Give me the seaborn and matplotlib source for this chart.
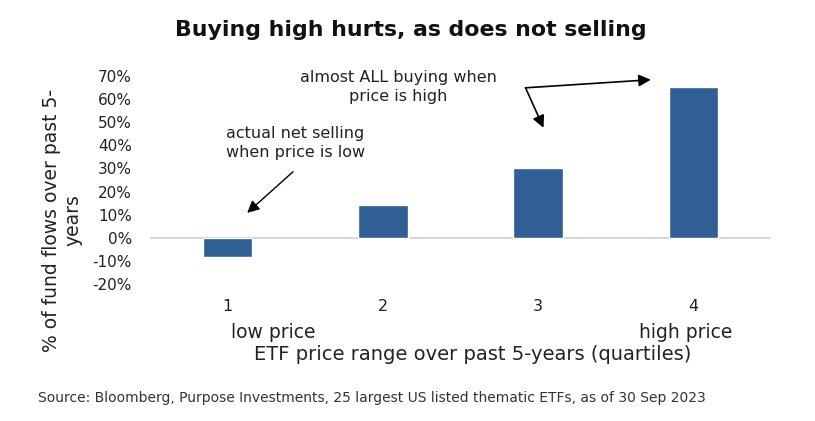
import matplotlib
matplotlib.use("Agg")
import matplotlib.pyplot as plt
import matplotlib.transforms as mtransforms
import pandas as pd
import seaborn as sns

quartiles = ['1', '2', '3', '4']
flows = [-0.083, 0.143, 0.300, 0.653]
y_ticks = [-0.2, -0.1, 0.0, 0.1, 0.2, 0.3, 0.4, 0.5, 0.6, 0.7]

title = 'Buying high hurts, as does not selling'
ylabel = '% of fund flows over past 5-\nyears'
xlabel = 'ETF price range over past 5-years (quartiles)'
source = 'Source: Bloomberg, Purpose Investments, 25 largest US listed thematic ETFs, as of 30 Sep 2023'

sns.set_style('white')
plt.rcParams['font.family'] = ['DejaVu Sans']

df = pd.DataFrame({'quartile': quartiles, 'flow': flows})

fig = plt.figure(figsize=(8.15, 4.21), dpi=100)
ax = fig.add_axes([0.184, 0.3254, 0.762, 0.494])

sns.barplot(data=df, x='quartile', y='flow', color='#2F5F94', width=0.32,
            saturation=1, ax=ax)

ax.set_xlim(-0.5, 3.5)
ax.set_ylim(-0.2, 0.7)
ax.set_yticks(y_ticks)
ax.set_yticklabels([f'{v:.0%}' for v in y_ticks], fontsize=11, color='#222222')
ax.tick_params(axis='x', labelsize=11.5, colors='#222222', pad=11, length=0)
ax.tick_params(axis='y', length=0, pad=13)
for s in ax.spines.values():
    s.set_visible(False)
ax.axhline(0, color='#D0D0D0', lw=1.2, zorder=0)

ax.set_xlabel('')
ax.set_ylabel('')

trans = mtransforms.blended_transform_factory(ax.transData, fig.transFigure)
ax.text(0.02, 1 - 332 / 421, 'low price', transform=trans, ha='left', va='center',
        fontsize=13.5, color='#222222')
ax.text(3.25, 1 - 332 / 421, 'high price', transform=trans, ha='right', va='center',
        fontsize=13.5, color='#222222')

fig.text(473 / 815, 1 - 355 / 421, xlabel, ha='center', va='center', fontsize=14,
         color='#222222')
fig.text(62 / 815, 1 - 220 / 421, ylabel, ha='center', va='center', rotation=90,
         fontsize=13.5, color='#222222', linespacing=1.15)
fig.text(411 / 815, 1 - 30 / 421, title, ha='center', va='center', fontsize=15.8,
         fontweight='bold', color='#111111')
fig.text(38 / 815, 1 - 398 / 421, source, ha='left', va='center', fontsize=10,
         color='#333333')

ax.text(0.435, 0.411, 'actual net selling\nwhen price is low', ha='center', va='center',
        fontsize=11.5, color='#222222', linespacing=1.35)
ax.annotate('', xy=(0.113, 0.10), xytext=(0.435, 0.294),
            arrowprops=dict(arrowstyle='-|>', color='black', lw=1, mutation_scale=18))

ax.text(1.10, 0.654, 'almost ALL buying when\nprice is high', ha='center', va='center',
        fontsize=11.5, color='#222222', linespacing=1.35)
ax.annotate('', xy=(2.035, 0.476), xytext=(1.919, 0.649),
            arrowprops=dict(arrowstyle='-|>', color='black', lw=1.2, mutation_scale=18,
                            shrinkA=0, shrinkB=0))
ax.annotate('', xy=(2.726, 0.684), xytext=(1.919, 0.649),
            arrowprops=dict(arrowstyle='-|>', color='black', lw=1.2, mutation_scale=18,
                            shrinkA=0, shrinkB=0))

fig.savefig('out.png', dpi=100)
